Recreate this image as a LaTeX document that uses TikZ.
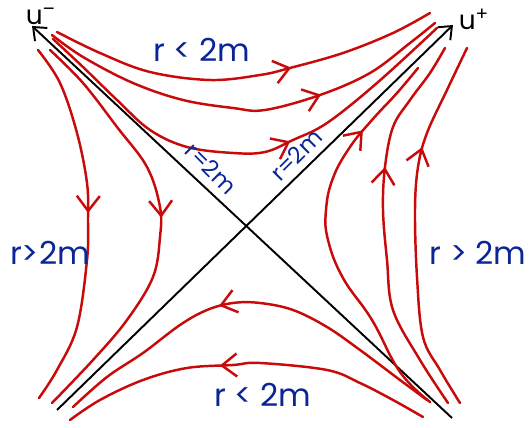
\documentclass[tikz,border=0pt]{standalone}
\usepackage{fontspec}
\setmainfont{Poppins}
\usetikzlibrary{arrows.meta,decorations.markings}
\definecolor{CurveRed}{HTML}{C80A0A}
\definecolor{LabelBlue}{HTML}{0A2596}
\tikzset{
	hyp/.style={draw=CurveRed, line width=1.4pt, line cap=round},
	flowat/.style={postaction={decorate}, decoration={markings,
		mark=at position #1 with {\arrow{Straight Barb[length=3mm,width=4.6mm]}}}},
	axisline/.style={draw=black, line width=1.1pt, -{Straight Barb[length=2.2mm,width=3.6mm]}},
	axislbl/.style={font=\fontsize{15}{17}\selectfont, inner sep=0pt},
	lbl/.style={text=LabelBlue, font=\fontsize{18}{20}\selectfont, inner sep=0pt},
	horizon/.style={text=LabelBlue, font=\fontsize{13}{15}\selectfont, inner sep=0pt},
}

\begin{document}
\begin{tikzpicture}[x=0.02cm,y=-0.02cm]
	\useasboundingbox[fill=white] (0,0) rectangle (531,428);

	% Axes u^- and u^+
	\coordinate (sw) at (57,410);
	\coordinate (ne) at (453,25);
	\coordinate (se) at (452,418);
	\coordinate (nw) at (32,26);
	\draw[axisline] (se) -- (nw);
	\draw[axisline] (sw) -- (ne);
	\node[axislbl] (uminus) at (41,16) {u\textsuperscript{--}};
	\node[axislbl] (uplus) at (474,19) {u\textsuperscript{+}};

	% Top region, r < 2m
	\draw[hyp, flowat=0.62] plot[smooth, tension=0.6] coordinates {(57,32) (100,53) (150,72) (210,80) (260,75) (290,68) (343,53) (393,33) (430,13)};
	\draw[hyp, flowat=0.68] plot[smooth, tension=0.6] coordinates {(52,35) (83,57) (133,83) (183,100) (233,108) (265,110) (320,95) (370,73) (410,43) (435,23)};
	\draw[hyp, flowat=0.60] plot[smooth, tension=0.6] coordinates {(53,39) (83,67) (117,100) (150,130) (187,147) (233,153) (265,152) (293,140) (327,123) (377,83) (437,28)};

	% Left region, r > 2m
	\draw[hyp, flowat=0.47] plot[smooth, tension=0.6] coordinates {(38,50) (60,83) (77,133) (87,183) (88,220) (87,260) (77,327) (57,370) (39,398)};
	\draw[hyp, flowat=0.48] plot[smooth, tension=0.6] coordinates {(50,50) (83,83) (117,127) (147,167) (160,207) (160,237) (153,277) (127,320) (93,360) (52,403)};

	% Right region, r > 2m
	\draw[hyp, flowat=0.79] plot[smooth, tension=0.7] coordinates {(430,402) (400,372) (372,320) (343,278) (328,240) (326,210) (333,178) (350,147) (372,120) (397,93) (418,68)};
	\draw[hyp, flowat=0.65] plot[smooth, tension=0.6] coordinates {(448,403) (420,360) (393,310) (387,260) (383,210) (385,167) (393,127) (410,100) (430,73) (445,48)};
	\draw[hyp, flowat=0.71] plot[smooth, tension=0.6] coordinates {(460,403) (440,370) (423,337) (417,277) (415,210) (418,167) (427,133) (447,90) (467,48)};

	% Bottom region, r < 2m
	\draw[hyp, flowat=0.57] plot[smooth, tension=0.6] coordinates {(427,400) (400,380) (360,350) (327,327) (293,310) (260,303) (233,303) (207,310) (180,325) (143,353) (107,377) (73,407)};
	\draw[hyp, flowat=0.57] plot[smooth, tension=0.6] coordinates {(423,417) (393,400) (360,383) (327,370) (260,363) (233,365) (187,368) (143,380) (100,400) (70,420)};

	% Labels
	\node[lbl] (toplbl) at (202,50) {r < 2m};
	\node[lbl] (botlbl) at (263,395) {r < 2m};
	\node[lbl] (leftlbl) at (50,253) {r>2m};
	\node[lbl] (rightlbl) at (478,253) {r > 2m};
	\node[horizon, rotate=-45] (hleft) at (211,168) {r=2m};
	\node[horizon, rotate=45] (hright) at (296,155) {r=2m};
\end{tikzpicture}
\end{document}
